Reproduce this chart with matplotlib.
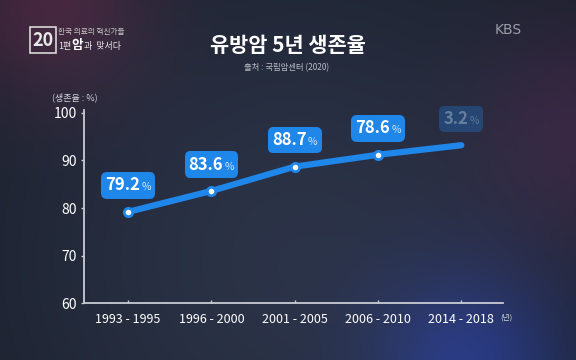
import numpy as np
import matplotlib
matplotlib.use("Agg")
import matplotlib.pyplot as plt
from matplotlib.offsetbox import TextArea, HPacker, AnnotationBbox
from matplotlib.patches import FancyBboxPatch

# Data
periods = ["1993 - 1995", "1996 - 2000", "2001 - 2005", "2006 - 2010", "2014 - 2018"]
survival = [79.2, 83.6, 88.7, 91.2, 93.2]
shown_labels = ["79.2", "83.6", "88.7", "78.6", "3.2"]
label_alpha = [1, 1, 1, 1, 0.3]
yticks = [60, 70, 80, 90, 100]

KR = ["Noto Sans CJK KR", "DejaVu Sans"]
BLUE = "#1f86ea"
W, H = 576, 360

fig = plt.figure(figsize=(5.76, 3.6), dpi=100)

# Background: dark navy with soft glows
ys, xs = np.mgrid[0:H, 0:W].astype(float)
def blob(cx, cy, s):
    return np.exp(-((xs - cx) ** 2 + (ys - cy) ** 2) / (2 * s ** 2))[..., None]
bg = np.ones((H, W, 3)) * np.array([0.09, 0.11, 0.15])
bg += blob(300, 260, 230) * np.array([0.08, 0.09, 0.13])
bg += blob(50, 0, 70) * np.array([0.16, 0.02, 0.06])
bg += blob(590, 130, 80) * np.array([0.10, 0.01, 0.06])
bg += blob(470, 370, 70) * np.array([0.02, 0.06, 0.28])
bg = np.clip(bg, 0, 1)
bg_ax = fig.add_axes([0, 0, 1, 1])
bg_ax.imshow(bg, aspect="auto")
bg_ax.axis("off")

# Main chart
ax = fig.add_axes([84 / W, 1 - 303.3 / H, 419 / W, 193.3 / H])
ax.set_facecolor("none")
x = np.arange(len(periods))
ax.plot(x, survival, color=BLUE, lw=4.5, solid_capstyle="round", zorder=3)
ax.plot(x[:4], survival[:4], "o", ms=6, mfc="white", mec=BLUE, mew=2, zorder=4)

for xi, v, lab, a in zip(x, survival, shown_labels, label_alpha):
    num = TextArea(lab, textprops=dict(color="white", fontsize=12, family=KR,
                                       fontweight="bold", alpha=a))
    pct = TextArea("%", textprops=dict(color="#cfe6ff", fontsize=7.5, family=KR, alpha=a))
    pack = HPacker(children=[num, pct], align="baseline", pad=0, sep=1)
    ab = AnnotationBbox(pack, (xi, v), xybox=(0, 19), boxcoords="offset points",
                        frameon=True, pad=0.3,
                        bboxprops=dict(boxstyle="round,pad=0.3,rounding_size=0.4",
                                       fc=BLUE, ec="none", alpha=a), zorder=5)
    ax.add_artist(ab)

ax.set_xlim(-0.53, 4.5)
ax.set_ylim(60, 100.6)
ax.set_yticks(yticks)
ax.set_xticks(x)
ax.set_xticklabels(periods)
for s in ["top", "right"]:
    ax.spines[s].set_visible(False)
for s in ["left", "bottom"]:
    ax.spines[s].set_color("#c8ccd4")
    ax.spines[s].set_linewidth(1.3)
ax.tick_params(axis="y", colors="#c8ccd4", length=2, width=1, pad=3,
               labelcolor="white", labelsize=10)
ax.tick_params(axis="x", colors="#c8ccd4", length=2, width=1, direction="in",
               pad=7, labelcolor="white", labelsize=9)
for t in ax.get_xticklabels() + ax.get_yticklabels():
    t.set_family(KR)

# Unit labels
fig.text(75 / W, 1 - 97 / H, "(생존율 : %)", color="#d0d4dc", fontsize=6.5,
         family=KR, ha="center", va="center")
fig.text(500 / W, 1 - 318 / H, "(년)", color="#d0d4dc", fontsize=5.5,
         family=KR, ha="left", va="center")

# Title and source
fig.text(288 / W, 1 - 45 / H, "유방암 5년 생존율", color="white", fontsize=15,
         family=KR, fontweight="bold", ha="center", va="center")
fig.text(287 / W, 1 - 68 / H, "출처 : 국립암센터 (2020)", color="#b8bcc6",
         fontsize=6, family=KR, ha="center", va="center")

# Broadcaster marks
fig.text(508 / W, 1 - 30 / H, "KBS", color="#9a9ea8", fontsize=10,
         family=["DejaVu Sans"], ha="center", va="center")
fig.patches.append(FancyBboxPatch((30 / W, 1 - 53 / H), 26 / W, 26 / H,
                                  boxstyle="square,pad=0", fc="none", ec="#d8d8d8",
                                  lw=1.2, transform=fig.transFigure, figure=fig))
fig.text(43 / W, 1 - 40 / H, "20", color="#e8e8e8", fontsize=13, fontweight="bold",
         family=KR, ha="center", va="center")
fig.text(58 / W, 1 - 32 / H, "한국 의료의 혁신가들", color="#c8c8c8", fontsize=5.5,
         family=KR, ha="left", va="center")
fig.text(58 / W, 1 - 46 / H, "1편", color="#e8e8e8", fontsize=6.5,
         family=KR, ha="left", va="center")
fig.text(71 / W, 1 - 45 / H, "암", color="white", fontsize=9, fontweight="bold",
         family=KR, ha="left", va="center")
fig.text(84 / W, 1 - 46 / H, "과  맞서다", color="#e8e8e8", fontsize=6.5,
         family=KR, ha="left", va="center")

fig.savefig("out.png", dpi=100)
